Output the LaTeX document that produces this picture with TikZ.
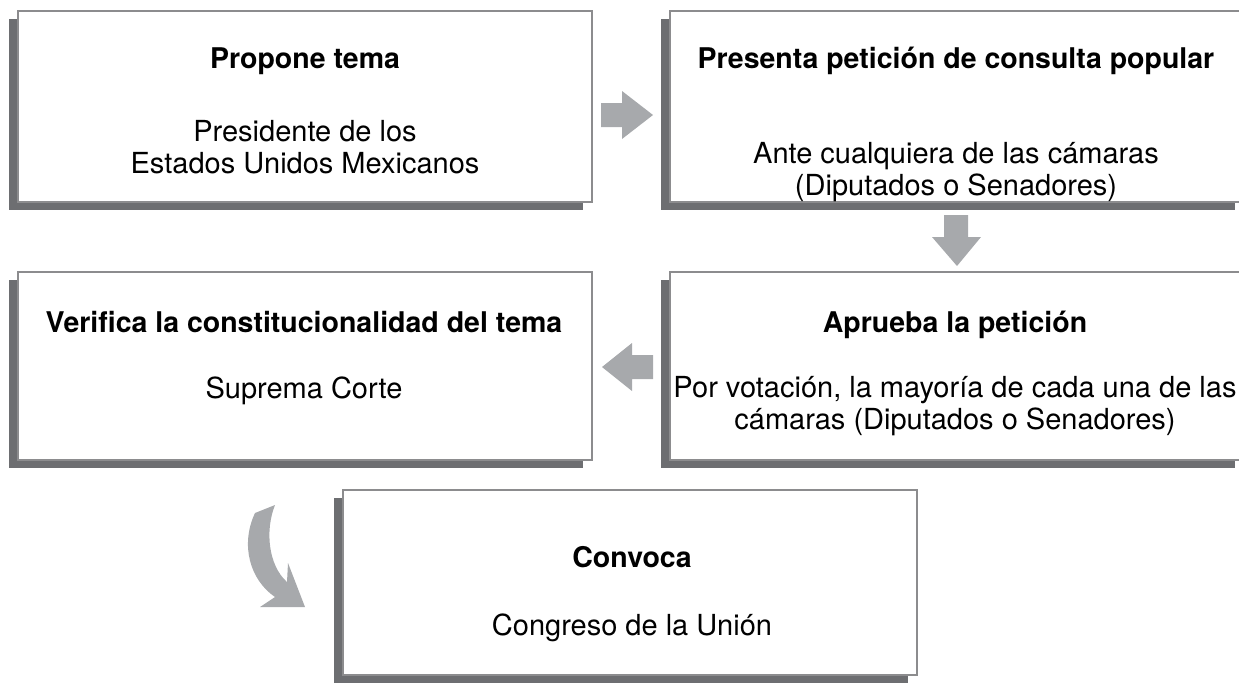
\documentclass[tikz,border=0pt]{standalone}
\usepackage{fontspec}
\setmainfont{TeX Gyre Heros}
\usetikzlibrary{shadows}
\definecolor{framegray}{HTML}{8C8C8E}
\definecolor{shadowgray}{HTML}{6D6E71}
\definecolor{arrowgray}{HTML}{A7A9AC}
\tikzset{
  stepbox/.style={draw=framegray, line width=2.5pt, fill=white, inner sep=0pt,
    minimum width=574pt,
    general shadow={fill=shadowgray, shadow xshift=-9pt, shadow yshift=-8pt}},
  titletext/.style={anchor=base, inner sep=0pt, font=\fontsize{28.5}{32}\selectfont\bfseries},
  bodytext/.style={anchor=base, inner sep=0pt, font=\fontsize{29}{32}\selectfont},
  blockarrow/.style={fill=arrowgray}
}
\begin{document}
\begin{tikzpicture}[x=1pt,y=-1pt]
\useasboundingbox (0,0) rectangle (1239,683);
% boxes
\node[stepbox, minimum height=191pt] (box1) at (305,106.5) {};
\node[stepbox, minimum height=191pt] (box2) at (957,106.5) {};
\node[stepbox, minimum height=188pt] (box3) at (305,366) {};
\node[stepbox, minimum height=188pt] (box4) at (957,366) {};
\node[stepbox, minimum height=185pt] (box5) at (630,582.5) {};
% texts
\node[titletext] (t1) at (305,68) {Propone tema};
\node[bodytext] (b1a) at (305,141) {Presidente de los};
\node[bodytext] (b1b) at (305,173) {Estados Unidos Mexicanos};
\node[titletext] (t2) at (956,68) {Presenta petición de consulta popular};
\node[bodytext] (b2a) at (956,163) {Ante cualquiera de las cámaras};
\node[bodytext] (b2b) at (956,195) {(Diputados o Senadores)};
\node[titletext] (t3) at (304,332) {Verifica la constitucionalidad del tema};
\node[bodytext] (b3a) at (304,398) {Suprema Corte};
\node[titletext] (t4) at (955,332) {Aprueba la petición};
\node[bodytext] (b4a) at (955,397) {Por votación, la mayoría de cada una de las};
\node[bodytext] (b4b) at (955,429) {cámaras (Diputados o Senadores)};
\node[titletext] (t5) at (632,567) {Convoca};
\node[bodytext] (b5a) at (632,635) {Congreso de la Unión};
% arrows
\fill[blockarrow] (601,103) -- (622,103) -- (622,91) -- (653,115) -- (622,139) -- (622,127) -- (601,127) -- cycle;
\fill[blockarrow] (944,215) -- (968,215) -- (968,237) -- (981,237) -- (957,266) -- (932,237) -- (944,237) -- cycle;
\fill[blockarrow] (653,355) -- (632,355) -- (632,343) -- (602,367) -- (632,391) -- (632,379) -- (653,379) -- cycle;
\fill[blockarrow] (255,513) -- (275,505) .. controls (265,530) and (268,565) .. (287,582) -- (288,563) -- (305,607) -- (260,607) -- (275,597) .. controls (250,580) and (240,545) .. (255,513) -- cycle;
\end{tikzpicture}
\end{document}
